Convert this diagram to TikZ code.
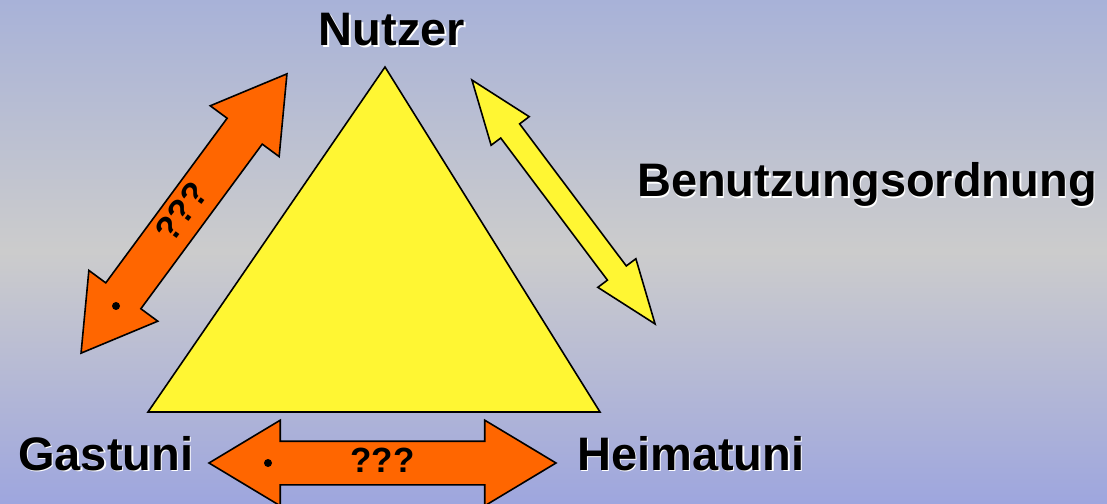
\documentclass[tikz,border=0pt]{standalone}
\usepackage{fontspec}
\setmainfont{Liberation Sans}
\usepackage{tikz}
\usetikzlibrary{shapes.arrows,shapes.geometric}

\definecolor{orangefill}{HTML}{FF6600}
\definecolor{yellowfill}{HTML}{FFF633}
\definecolor{bgtop}{RGB}{168,178,216}
\definecolor{bgmid}{RGB}{204,204,204}
\definecolor{bgbot}{RGB}{158,166,222}

% text with a white shadow
\newcommand{\shd}[1]{\rlap{\kern1.6pt\raisebox{-1.6pt}{\color{white}#1}}#1}

\begin{document}
\begin{tikzpicture}[x=1pt, y=1pt,
    lbl/.style={inner sep=0pt, font=\fontsize{47}{56}\selectfont\bfseries},
    darrow/.style={double arrow, draw=black, line width=1.6pt, inner sep=0pt,
      font=\fontsize{35}{42}\selectfont\bfseries},
    punkt/.style={circle, fill=black, inner sep=0pt, minimum size=8pt}
  ]
    % background
    \shade[top color=bgtop, bottom color=bgbot, middle color=bgmid] (0,0) rectangle (1107,503);
    \useasboundingbox (0,0) rectangle (1107,503);

    % triangle
    \coordinate (apex) at (385,436);
    \coordinate (bl) at (148,91);
    \coordinate (br) at (600,91);
    \draw[fill=yellowfill, line width=1.6pt, line join=miter] (apex) -- (bl) -- (br) -- cycle;

    % labels
    \node[lbl, anchor=base] (nutzer) at (392,457) {\shd{Nutzer}};
    \node[lbl, anchor=base west] (ordnung) at (637,306) {\shd{Benutzungsordnung}};
    \node[lbl, anchor=base west] (gast) at (18,33) {\shd{Gastuni}};
    \node[lbl, anchor=base west] (heim) at (577,33) {\shd{Heimatuni}};

    % arrows
    \node[darrow, fill=orangefill, rotate=53.6, minimum height=347pt,
      double arrow head extend=21pt, double arrow tip angle=62] (links) at (184,289.5)
      {\rule[-12pt]{0pt}{42pt}???};
    \node[darrow, fill=orangefill, minimum height=347pt,
      double arrow head extend=21pt, double arrow tip angle=62] (unten) at (382.5,40)
      {\rule[-12pt]{0pt}{42pt}???};
    \node[darrow, fill=yellowfill, rotate=126.9, minimum height=305pt,
      double arrow head extend=12pt, double arrow tip angle=41] (rechts) at (563.5,301)
      {\rule{0pt}{22pt}};

    % dots
    \node[punkt] (p1) at (116,197) {};
    \node[punkt] (p2) at (268,40) {};
\end{tikzpicture}
\end{document}
